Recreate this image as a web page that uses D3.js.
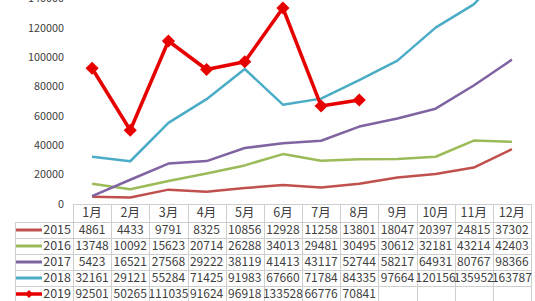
<!DOCTYPE html>
<html><head><meta charset="utf-8">
<script src="https://cdn.jsdelivr.net/npm/d3@7"></script>
<style>body{margin:0;background:#fff}svg{display:block}</style>
</head><body>
<svg id="c" width="535" height="301"></svg>
<script>
const months = ["1月","2月","3月","4月","5月","6月","7月","8月","9月","10月","11月","12月"];
const years = ["2015","2016","2017","2018","2019"];
const v2015 = [4861,4433,9791,8325,10856,12928,11258,13801,18047,20397,24815,37302];
const v2016 = [13748,10092,15623,20714,26288,34013,29481,30495,30612,32181,43214,42403];
const v2017 = [5423,16521,27568,29222,38119,41413,43117,52744,58217,64931,80767,98366];
const v2018 = [32161,29121,55284,71425,91983,67660,71784,84335,97664,120156,135952,163787];
const v2019 = [92501,50265,111035,91624,96918,133528,66776,70841];
const yTicks = [0,20000,40000,60000,80000,100000,120000,140000];
const colors = ["#C0504D","#9BBB59","#8064A2","#4BACC6","#E60000"];

const series = [v2015,v2016,v2017,v2018,v2019];
const svg = d3.select("#c");
const font = "'Microsoft YaHei','Noto Sans CJK SC',sans-serif";

const x = d3.scaleBand().domain(months).range([73,531]);
const y = d3.scaleLinear().domain([0,140000]).range([204,-1.5]);

// y tick labels
svg.append("g").selectAll("text").data(yTicks).join("text")
  .attr("x",64).attr("y",d=>y(d)).attr("dy","0.35em")
  .attr("text-anchor","end").attr("font-family",font).attr("font-size",10.8)
  .attr("fill","#404040").text(d=>d);

// table
const rowTop = 222, rowH = 16, headTop = 204, tableLeft = 15;
const grid = svg.append("g").attr("stroke","#cfcfcf").attr("stroke-width",1).attr("shape-rendering","crispEdges");
grid.append("line").attr("x1",x.range()[0]).attr("x2",x.range()[1]).attr("y1",headTop+0.5).attr("y2",headTop+0.5);
for(let i=0;i<=years.length;i++){
  const yy = rowTop + i*rowH + 0.5;
  grid.append("line").attr("x1",tableLeft).attr("x2",x.range()[1]).attr("y1",yy).attr("y2",yy);
}
months.forEach((m,i)=>{
  const xx = Math.round(x(m))+0.5;
  grid.append("line").attr("x1",xx).attr("x2",xx).attr("y1",headTop).attr("y2",rowTop+years.length*rowH);
});
grid.append("line").attr("x1",Math.round(x.range()[1])+0.5).attr("x2",Math.round(x.range()[1])+0.5).attr("y1",headTop).attr("y2",rowTop+years.length*rowH);
grid.append("line").attr("x1",tableLeft+0.5).attr("x2",tableLeft+0.5).attr("y1",rowTop).attr("y2",rowTop+years.length*rowH);

// header
svg.append("g").selectAll("text").data(months).join("text")
  .attr("x",d=>x(d)+x.bandwidth()/2).attr("y",headTop+9).attr("dy","0.35em")
  .attr("text-anchor","middle").attr("font-family",font).attr("font-size",12.5)
  .attr("fill","#404040").text(d=>d);

// rows
series.forEach((vals,si)=>{
  const cy = rowTop + si*rowH + rowH/2;
  const g = svg.append("g");
  g.append("line").attr("x1",16).attr("x2",42).attr("y1",cy).attr("y2",cy)
    .attr("stroke",colors[si]).attr("stroke-width",si===4?3.5:3);
  if(si===4){
    g.append("path").attr("d",d3.symbol(d3.symbolDiamond2,40)()).attr("transform",`translate(29,${cy})`).attr("fill",colors[si]);
  }
  g.append("text").attr("x",71).attr("y",cy).attr("dy","0.35em").attr("text-anchor","end")
    .attr("font-family",font).attr("font-size",12.5).attr("fill","#404040").text(years[si]);
  g.selectAll("text.v").data(vals).join("text").attr("class","v")
    .attr("x",(d,i)=>x(months[i])+x.bandwidth()/2).attr("y",cy).attr("dy","0.35em")
    .attr("text-anchor","middle").attr("font-family",font).attr("font-size",12)
    .attr("fill","#404040").text(d=>d);
});

// lines
const line = d3.line().x((d,i)=>x(months[i])+x.bandwidth()/2).y(d=>y(d));
const plot = svg.append("g");
series.forEach((vals,si)=>{
  plot.append("path").datum(vals).attr("d",line).attr("fill","none")
    .attr("stroke",colors[si]).attr("stroke-width",si===4?3.5:2.5).attr("stroke-linejoin","round");
});
plot.selectAll("path.m").data(v2019).join("path").attr("class","m")
  .attr("d",d3.symbol(d3.symbolDiamond2,110)())
  .attr("transform",(d,i)=>`translate(${x(months[i])+x.bandwidth()/2},${y(d)})`)
  .attr("fill",colors[4]);
</script>
</body></html>
